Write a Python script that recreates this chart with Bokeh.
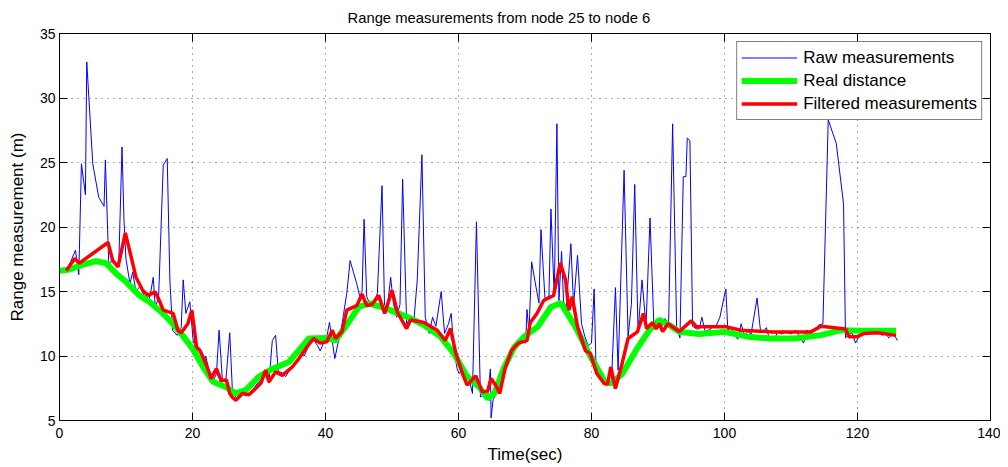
from bokeh.plotting import figure
from bokeh.models import LinearAxis, Range1d, FixedTicker, Legend, LegendItem, CustomJSTickFormatter
from bokeh.embed import file_html
from bokeh.resources import INLINE

# ---------------- data ----------------
raw_t = [1.0, 1.6, 2.4, 2.9, 3.3, 3.9, 4.1, 5.0, 5.9, 6.7, 6.9, 7.4, 8.2, 8.9, 9.4, 9.7, 10.0, 10.6,
         11.0, 11.5, 12.1, 12.6, 13.2, 13.6, 14.1, 14.4, 14.9, 15.6, 16.2, 16.6, 17.0, 17.7, 18.3,
         18.6, 19.0, 19.6, 20.1, 20.6, 21.0, 21.6, 22.0, 22.4, 22.8, 23.1, 23.6, 24.0, 24.5, 25.0,
         25.6, 26.0, 26.5, 27.0, 27.6, 28.0, 28.6, 29.2, 29.8, 30.4, 31.0, 31.5, 32.0, 32.5, 32.9,
         33.5, 34.0, 34.6, 35.2, 35.8, 36.3, 36.8, 37.3, 37.8, 38.3, 38.8, 39.2, 39.7, 40.2, 40.6,
         41.4, 42.0, 42.5, 42.7, 43.2, 43.7, 44.2, 44.7, 45.2, 45.5, 45.8, 46.2, 46.7, 47.3, 47.8,
         48.5, 48.9, 49.4, 49.8, 50.2, 50.7, 51.2, 51.6, 52.2, 52.8, 53.3, 53.8, 54.5, 55.0, 55.6,
         56.1, 56.6, 57.4, 57.9, 58.5, 58.9, 59.3, 59.8, 60.1, 60.6, 61.1, 61.6, 62.1, 62.7, 63.3,
         63.9, 64.4, 64.8, 64.9, 65.2, 65.8, 66.4, 67.0, 67.6, 68.2, 68.8, 69.4, 70.1, 70.3, 70.6,
         71.0, 71.6, 72.1, 72.4, 73.0, 73.6, 73.9, 74.4, 74.8, 75.1, 75.5, 75.8, 76.2, 76.9, 77.3,
         77.9, 78.5, 79.0, 79.5, 80.0, 80.4, 80.7, 81.2, 81.8, 82.4, 83.0, 83.6, 84.0, 84.9, 85.5,
         86.0, 86.5, 87.0, 87.6, 88.2, 88.8, 89.4, 89.9, 90.5, 91.0, 91.6, 92.2, 92.8, 93.3, 93.8,
         94.2, 94.4, 94.8, 95.2, 95.8, 96.2, 96.6, 97.1, 97.6, 98.2, 98.8, 99.3, 100.2, 100.5,
         101.0, 101.5, 102.0, 102.5, 103.0, 103.5, 104.0, 104.9, 105.4, 105.8, 106.3, 106.8, 107.5,
         108.0, 108.6, 109.2, 110.0, 110.7, 111.3, 111.9, 112.4, 113.0, 113.6, 114.2, 114.8, 115.6,
         116.8, 117.9, 118.2, 118.8, 119.2, 119.7, 120.3, 121.0, 121.6, 122.2, 122.8, 123.3, 123.7,
         124.2, 124.7, 125.3, 125.8, 126.0]
raw_v = [16.6, 17.2, 18.2, 16.3, 24.9, 22.5, 32.8, 24.9, 22.3, 21.6, 25.2, 17.2, 17.4, 16.9, 26.2, 20.5,
         17.5, 15.6, 16.5, 15.0, 15.4, 14.8, 14.2, 14.6, 16.1, 13.8, 14.5, 24.8, 25.3, 15.9, 12.0, 11.6,
         12.2, 15.9, 13.3, 14.2, 11.2, 10.5, 10.0, 9.4, 10.0, 9.0, 8.6, 8.1, 8.6, 12.0, 8.1, 8.0, 11.8,
         7.3, 6.8, 6.7, 7.2, 6.9, 7.2, 7.5, 7.9, 8.2, 8.6, 7.9, 11.2, 11.6, 8.8, 8.7, 8.4, 8.9, 9.3, 9.6,
         10.1, 10.0, 10.6, 11.0, 11.2, 10.8, 10.4, 11.0, 11.5, 12.6, 9.8, 11.3, 12.5, 13.2, 14.85, 17.4,
         16.5, 15.6, 14.5, 15.0, 20.6, 14.6, 14.0, 14.2, 14.85, 23.2, 13.3, 14.2, 16.1, 14.1, 13.0, 14.0,
         23.7, 12.5, 13.0, 12.8, 15.9, 25.6, 13.0, 11.75, 13.0, 12.3, 15.0, 11.75, 12.5, 13.3, 10.5, 9.0,
         8.64, 9.0, 8.3, 8.2, 7.1, 20.4, 6.83, 7.0, 6.9, 9.0, 5.2, 6.6, 7.2, 7.4, 8.8, 9.8, 10.3, 10.8,
         11.3, 11.0, 13.6, 11.8, 17.3, 15.5, 14.1, 19.8, 14.5, 14.6, 21.4, 14.6, 28.0, 14.3, 18.1, 14.2,
         13.8, 18.7, 13.9, 17.8, 12.5, 11.5, 10.8, 11.0, 15.2, 8.6, 8.3, 7.9, 7.8, 8.0, 15.3, 8.9, 24.4,
         11.5, 14.0, 23.3, 11.9, 15.9, 12.3, 20.7, 12.1, 12.5, 12.2, 12.9, 12.6, 28.0, 12.3, 11.4, 23.9,
         23.9, 26.9, 26.7, 12.3, 12.1, 12.1, 13.0, 11.9, 12.0, 12.2, 12.4, 13.0, 15.2, 12.0, 12.2, 11.6,
         11.3, 12.5, 11.6, 11.9, 11.7, 14.5, 12.0, 11.8, 12.2, 11.2, 11.2, 11.9, 11.7, 11.9, 11.7, 12.0,
         11.5, 11.0, 12.0, 11.8, 12.1, 12.4, 12.5, 28.3, 26.5, 21.8, 11.4, 11.7, 11.75, 11.0, 11.6, 11.9,
         11.7, 11.9, 11.8, 12.1, 11.6, 11.8, 11.4, 11.7, 11.4, 11.2]

real_t = [0, 1.5, 3.0, 5.5, 7.0, 8.5, 10.0, 12.0, 13.5, 15.0, 16.5, 18.5, 20.1, 21.6, 23.1, 25.0, 26.5,
          28.0, 30.0, 32.0, 34.5, 36.0, 37.5, 40.0, 41.5, 43.0, 45.0, 46.5, 48.5, 50.5, 52.3, 54.8,
          57.3, 59.3, 61.3, 63.1, 64.4, 65.4, 66.9, 68.4, 69.9, 71.9, 73.9, 75.4, 77.6, 79.6, 81.9,
          82.9, 84.6, 86.7, 88.7, 90.2, 91.7, 93.2, 96.2, 100.0, 103.5, 107.0, 110.5, 114.5, 117.5,
          120.5, 125.8]
real_v = [16.6, 16.7, 17.0, 17.35, 17.2, 16.4, 15.75, 14.7, 14.2, 13.55, 12.8, 11.6, 10.5, 9.15, 8.0,
          7.6, 7.1, 7.35, 8.4, 9.0, 9.54, 10.45, 11.36, 11.4, 11.2, 12.26, 13.8, 14.07, 13.8, 13.4,
          13.03, 12.4, 11.5, 10.2, 8.4, 7.6, 6.7, 7.1, 9.15, 10.7, 11.5, 12.26, 13.8, 14.1, 12.26,
          10.2, 8.1, 7.87, 8.6, 10.45, 12.0, 12.8, 12.4, 11.87, 11.7, 11.87, 11.5, 11.36, 11.36,
          11.62, 12.0, 11.95, 11.95]

filt_t = [1.0, 2.3, 3.0, 7.3, 8.0, 8.8, 9.9, 11.0, 11.5, 12.5, 13.3, 14.4, 15.0, 15.6, 17.1, 17.8,
          18.3, 19.3, 19.9, 20.3, 20.6, 21.1, 22.1, 22.8, 23.6, 24.3, 25.1, 25.6, 26.0, 26.5, 27.5,
          28.5, 29.5, 30.3, 31.0, 31.5, 32.5, 33.5, 35.0, 36.0, 37.2, 38.2, 39.2, 40.2, 41.0, 41.5,
          42.5, 43.2, 44.7, 45.5, 46.2, 47.0, 48.0, 48.9, 50.0, 50.8, 52.2, 52.8, 54.8, 56.8, 58.0,
          58.8, 59.6, 60.6, 61.3, 62.6, 63.6, 64.4, 64.9, 65.6, 66.2, 67.0, 68.0, 69.0, 70.3, 70.8,
          71.8, 72.8, 74.3, 75.3, 76.1, 76.6, 77.1, 77.9, 79.1, 79.8, 80.8, 81.9, 82.4, 82.9, 83.6,
          84.6, 85.5, 86.9, 87.8, 88.3, 89.2, 89.7, 90.2, 90.7, 91.5, 93.2, 95.0, 95.8, 100.3, 102.5,
          107.0, 113.0, 114.5, 118.2, 118.7, 120.0, 121.0, 123.0, 125.8]
filt_v = [16.6, 17.55, 17.2, 18.8, 17.4, 16.9, 19.55, 17.2, 16.1, 15.1, 14.7, 14.97, 14.3, 13.55, 13.3,
          12.0, 11.8, 12.5, 13.55, 12.0, 10.7, 10.45, 9.3, 8.25, 9.03, 8.1, 8.15, 7.1, 6.8, 6.57, 7.1,
          7.0, 7.48, 7.9, 8.9, 8.0, 8.77, 8.5, 9.15, 9.8, 10.7, 11.36, 11.0, 11.1, 12.0, 11.36, 11.9,
          13.55, 13.9, 14.8, 13.9, 14.0, 14.7, 13.3, 15.1, 13.4, 12.13, 12.8, 12.6, 12.0, 11.2, 12.13,
          10.2, 8.64, 7.74, 8.46, 7.2, 7.3, 8.25, 7.74, 7.1, 9.03, 10.45, 11.0, 11.2, 12.6, 13.3, 14.3,
          14.7, 17.2, 15.9, 13.55, 14.6, 12.26, 10.4, 10.2, 8.64, 7.87, 7.8, 9.15, 7.48, 9.42, 11.36,
          11.87, 13.3, 12.13, 12.6, 12.1, 12.5, 11.9, 12.5, 11.9, 12.72, 12.26, 12.26, 12.0, 11.87,
          11.87, 12.3, 12.1, 11.5, 11.5, 11.75, 11.8, 11.6]

x_ticks = [0, 20, 40, 60, 80, 100, 120, 140]
y_ticks = [5, 10, 15, 20, 25, 30, 35]
series_names = ["Raw measurements", "Real distance", "Filtered measurements"]

FONT = "Liberation Sans"

p = figure(width=1000, height=467, output_backend="svg", toolbar_location=None,
           x_range=Range1d(0, 140), y_range=Range1d(5, 35),
           min_border_left=59, min_border_right=10, min_border_top=33, min_border_bottom=47,
           title="Range measurements from node 25 to node 6")
p.title.align = "left"
p.title.offset = 288
p.title.text_font = FONT
p.title.text_font_size = "14.8px"
p.title.text_font_style = "normal"
p.title.text_color = "black"
p.title.standoff = 12
p.title.vertical_align = "top"

p.outline_line_color = "black"
p.outline_line_width = 1
p.background_fill_color = "white"
p.border_fill_color = "white"

for ax in (p.xaxis[0], p.yaxis[0]):
    ax.major_label_text_font = FONT
    ax.major_label_text_font_size = "14px"
    ax.major_label_text_color = "black"
    ax.axis_label_text_font = FONT
    ax.axis_label_text_font_size = "17px"
    ax.axis_label_text_font_style = "normal"
    ax.axis_label_text_color = "black"
    ax.major_tick_in = 8
    ax.major_tick_out = 0
    ax.minor_tick_in = 0
    ax.minor_tick_out = 0
    ax.axis_line_color = "black"
    ax.major_tick_line_color = "black"

p.xaxis[0].major_label_standoff = 7
p.yaxis[0].major_label_standoff = 4
p.xaxis[0].axis_label_standoff = 4
p.yaxis[0].axis_label_standoff = 10
p.xaxis[0].ticker = FixedTicker(ticks=x_ticks)
p.yaxis[0].ticker = FixedTicker(ticks=y_ticks)
p.xaxis[0].axis_label = "Time(sec)"
p.yaxis[0].axis_label = "Range measurement (m)"

# mirrored ticks on top and right (box on), without labels
blank = CustomJSTickFormatter(code="return '';")
top_ax = LinearAxis(ticker=FixedTicker(ticks=x_ticks), formatter=blank,
                    major_tick_in=8, major_tick_out=0, minor_tick_in=0, minor_tick_out=0,
                    major_label_standoff=0, axis_line_color="black")
right_ax = LinearAxis(ticker=FixedTicker(ticks=y_ticks), formatter=blank,
                      major_tick_in=8, major_tick_out=0, minor_tick_in=0, minor_tick_out=0,
                      major_label_standoff=0, axis_line_color="black")
p.add_layout(top_ax, "above")
p.add_layout(right_ax, "right")

for g in (p.xgrid[0], p.ygrid[0]):
    g.grid_line_color = "#000000"
    g.grid_line_alpha = 0.65
    g.grid_line_dash = "1 5"
    g.grid_line_width = 1
p.xgrid[0].ticker = FixedTicker(ticks=x_ticks)
p.ygrid[0].ticker = FixedTicker(ticks=y_ticks)

r_raw = p.line(raw_t, raw_v, line_color="#0000ff", line_width=1)
r_real = p.line(real_t, real_v, line_color="#00ff00", line_width=6)
r_filt = p.line(filt_t, filt_v, line_color="#ff0000", line_width=3.5)

legend = Legend(items=[LegendItem(label=series_names[0], renderers=[r_raw]),
                       LegendItem(label=series_names[1], renderers=[r_real]),
                       LegendItem(label=series_names[2], renderers=[r_filt])],
                location="top_right")
legend.label_text_font = FONT
legend.label_text_font_size = "17px"
legend.label_text_color = "black"
legend.border_line_color = "black"
legend.border_line_width = 1.5
legend.background_fill_alpha = 1
legend.glyph_width = 56
legend.glyph_height = 23
legend.label_height = 23
legend.spacing = 0
legend.padding = 4
legend.margin = 8
legend.label_standoff = 6
p.add_layout(legend)

open("out.html", "w").write(file_html(p, INLINE))
